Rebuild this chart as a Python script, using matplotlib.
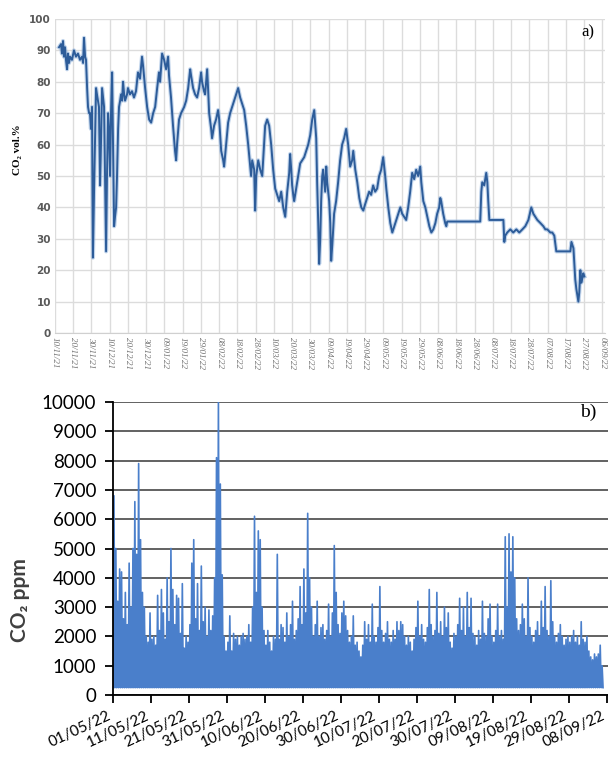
import numpy as np
import matplotlib
matplotlib.use('Agg')
import matplotlib.pyplot as plt
import matplotlib.transforms as mtransforms
from datetime import datetime

# ---- panel a): CO2 vol.% (days counted from 10/11/21) ----
co2_days = [2.2, 3.3, 3.8, 4.4, 4.9, 5.5, 6.0, 6.6, 7.1, 7.7, 8.2, 9.3, 10.4, 11.5, 12.6, 13.7,
            14.8, 15.4, 15.9, 16.5, 17.0, 17.6, 18.1, 18.7, 19.2, 19.7, 20.3, 20.8, 21.4, 22.5,
            23.0, 24.1, 24.7, 25.2, 25.8, 26.9, 28.0, 28.5, 29.1, 29.6, 30.2, 30.7, 31.3, 31.8,
            32.4, 32.9, 33.5, 34.0, 34.6, 35.1, 35.7, 36.2, 36.8, 37.3, 37.9, 38.4, 39.5, 40.0,
            41.1, 42.2, 43.3, 44.4, 45.5, 46.6, 47.7, 48.3, 49.4, 50.5, 51.6, 52.7, 53.8, 54.9,
            56.0, 57.0, 57.6, 58.7, 59.8, 60.9, 62.0, 62.5, 63.6, 64.7, 65.8, 66.4, 66.9, 68.0,
            69.1, 70.8, 71.9, 73.0, 74.1, 74.6, 75.7, 76.8, 77.9, 79.0, 80.1, 80.6, 81.7, 82.3,
            83.4, 83.9, 84.5, 85.6, 86.1, 87.2, 88.3, 89.4, 90.0, 91.1, 92.2, 92.7, 93.8, 94.9,
            96.0, 97.1, 98.2, 99.3, 100.4, 101.5, 102.6, 103.7, 104.8, 105.9, 107.0, 107.5, 108.1,
            109.2, 109.7, 110.3, 111.4, 112.5, 113.6, 114.6, 115.2, 116.3, 117.4, 118.5, 119.6,
            120.7, 121.8, 122.9, 124.0, 125.1, 126.2, 127.3, 128.4, 128.9, 129.5, 130.0, 130.6,
            131.1, 132.2, 133.3, 134.4, 135.5, 136.6, 137.7, 138.8, 139.9, 141.0, 142.1, 143.2,
            143.7, 144.3, 144.8, 145.4, 145.9, 146.5, 147.0, 148.1, 148.7, 149.2, 150.3, 150.9,
            151.4, 152.0, 153.0, 154.1, 155.2, 156.3, 157.4, 158.5, 159.6, 160.7, 161.8, 162.9,
            163.5, 164.6, 165.7, 166.8, 167.9, 169.0, 170.0, 171.1, 172.2, 173.3, 174.4, 175.5,
            176.6, 177.7, 178.8, 179.9, 181.0, 181.6, 182.7, 183.8, 184.9, 186.0, 187.1, 188.2,
            189.3, 190.3, 191.4, 192.5, 193.6, 194.7, 195.8, 196.9, 198.0, 199.1, 200.2, 200.8,
            201.9, 203.0, 204.1, 205.2, 206.3, 207.4, 208.5, 209.5, 210.6, 211.2, 211.7, 212.8,
            213.9, 214.5, 215.0, 233.1, 233.7, 234.2, 235.3, 236.4, 237.0, 237.5, 238.1, 245.8,
            246.3, 246.8, 247.9, 249.6, 251.2, 252.9, 254.5, 256.2, 257.8, 259.5, 261.1, 262.2,
            263.3, 264.4, 266.1, 267.7, 268.8, 269.9, 271.5, 272.6, 273.7, 274.8, 282.5, 283.1,
            284.2, 284.7, 285.2, 285.8, 286.9, 287.4, 288.0, 288.5, 289.1, 289.6, 290.2]
co2_vol = [91, 92, 89, 93, 88, 91, 87, 84, 89, 86, 88, 87, 90, 88, 89, 87,
           88, 86, 94, 88, 87, 78, 72, 70, 70, 65, 72, 24, 45, 78,
           76, 72, 47, 60, 78, 72, 26, 50, 70, 65, 50, 70, 83, 60,
           34, 37, 40, 50, 65, 72, 74, 76, 74, 80, 76, 74, 76, 78,
           76, 77, 75, 77, 83, 81, 88, 85, 78, 72, 68, 67, 70, 72,
           78, 83, 80, 89, 87, 84, 88, 82, 75, 66, 58, 55, 60, 68,
           70, 72, 74, 78, 84, 82, 78, 76, 75, 78, 83, 80, 77, 76,
           84, 78, 70, 65, 62, 66, 68, 71, 68, 58, 55, 53, 60, 67,
           70, 72, 74, 76, 78, 75, 73, 71, 66, 60, 53, 50, 55,
           52, 39, 50, 55, 52, 50, 60, 66, 68, 66, 60, 52,
           46, 44, 42, 45, 40, 37, 45, 51, 57, 52, 47, 44,
           42, 46, 50, 54, 55, 56, 58, 60, 63, 68, 71, 62,
           48, 35, 22, 30, 42, 50, 52, 45, 53, 48, 42, 35,
           23, 28, 38, 42, 48, 55, 60, 62, 65, 60, 53, 55,
           58, 52, 48, 43, 40, 39, 41, 43, 45, 44, 47, 45,
           46, 50, 52, 56, 50, 46, 40, 35, 32, 34, 36, 38,
           40, 38, 37, 36, 40, 45, 51, 49, 52, 50, 53, 48,
           42, 40, 37, 34, 32, 33, 35, 38, 40, 43, 42, 38,
           35, 34, 35.5, 35.5, 45, 48, 47, 51, 48, 42, 36, 36,
           29, 31, 32, 33, 32, 33, 32, 33, 34, 36, 40, 38,
           37, 36, 35, 34, 33, 33, 32, 32, 31, 26, 26, 29,
           27, 22, 17, 14, 10, 13, 20, 16, 17.5, 19, 18]
ticks_a = ['10/11/21', '20/11/21', '30/11/21', '10/12/21', '20/12/21', '30/12/21', '09/01/22',
           '19/01/22', '29/01/22', '08/02/22', '18/02/22', '28/02/22', '10/03/22', '20/03/22',
           '30/03/22', '09/04/22', '19/04/22', '29/04/22', '09/05/22', '19/05/22', '29/05/22',
           '08/06/22', '18/06/22', '28/06/22', '08/07/22', '18/07/22', '28/07/22', '07/08/22',
           '17/08/22', '27/08/22', '06/09/22']

# ---- panel b): CO2 ppm, two maxima per day from 01/05/22 ----
ppm_peaks = [
    6800, 5000, 3200, 4300, 4200, 2600, 3500, 2400, 4500, 3000, 5000, 6600, 4800, 7900, 5300, 3500, 3000, 2000, 1800, 2800,
    1900, 2000, 1700, 3400, 2200, 3600, 2800, 1900, 4000, 2500, 5000, 3600, 2400, 3400, 3300, 2100, 3800, 1600, 2000, 1800,
    2400, 4500, 5300, 2600, 3800, 2200, 4400, 2500, 3000, 2000, 2900, 2200, 2700, 4000, 8100, 10000, 7200, 4100, 2000, 1500,
    1800, 2700, 1500, 2100, 1900, 2000, 1700, 2000, 2100, 1900, 2000, 2400, 1800, 3000, 6100, 3500, 5600, 5300, 3000, 2200,
    1700, 2200, 1800, 1500, 2000, 1900, 4800, 1900, 2400, 2300, 1800, 2800, 2000, 2400, 3200, 1900, 2200, 2600, 3700, 2400,
    4300, 2800, 6200, 4000, 3000, 2000, 2400, 3200, 2000, 2300, 2400, 1900, 2200, 3100, 2000, 2800, 5100, 3500, 2400, 2100,
    2800, 3200, 2700, 2200, 1800, 2000, 2700, 1700, 1800, 1500, 1300, 1700, 2500, 1900, 2400, 1800, 3100, 2000, 1800, 2300,
    3700, 2200, 1800, 2100, 2500, 1900, 1800, 2200, 1900, 2500, 2200, 2500, 2400, 2000, 1700, 2000, 1800, 1500, 1900, 2300,
    3200, 2000, 2400, 1900, 1800, 2300, 3600, 2400, 2000, 2200, 3500, 2100, 2500, 2000, 3000, 2300, 2800, 1800, 1600, 2100,
    2000, 2400, 3300, 2200, 3000, 2000, 3500, 2300, 3300, 2100, 2000, 1700, 2200, 1900, 3200, 2100, 2000, 2600, 3100, 2000,
    1800, 2200, 3100, 2000, 2200, 1900, 5400, 3000, 5500, 4200, 5400, 4000, 2600, 2200, 2400, 3100, 2600, 2000, 4000, 2300,
    2000, 1800, 2200, 2500, 2000, 3200, 2300, 3700, 2200, 2000, 3900, 2500, 2000, 1800, 2100, 2400, 2000, 1700, 1900, 2000,
    1800, 2000, 2200, 1800, 2000, 1700, 2500, 1900, 1800, 2000, 1500, 1300, 1200, 1400, 1300, 1400, 1700, 1000]
# level below which the hourly trace is practically solid, per 10-day block
ppm_band = [1300, 1100, 1200, 1100, 1000, 1100, 1000, 1000, 1000, 1000, 1100, 1000, 900]
ppm_floor = 250
ticks_b = ['01/05/22', '11/05/22', '21/05/22', '31/05/22', '10/06/22', '20/06/22', '30/06/22',
           '10/07/22', '20/07/22', '30/07/22', '09/08/22', '19/08/22', '29/08/22', '08/09/22']


def to_dates(start, days):
    minutes = np.round(np.asarray(days, dtype=float) * 1440).astype('timedelta64[m]')
    return np.datetime64(start, 'm') + minutes


def parse(labels):
    return [datetime.strptime(s, '%d/%m/%y') for s in labels]


W, H = 608, 760
fig = plt.figure(figsize=(W / 100, H / 100), dpi=100)

# ================= a) =================
ax1 = fig.add_axes([55 / W, (H - 333) / H, 550 / W, 314 / H])
xa = to_dates('2021-11-10', co2_days)
ax1.plot(xa, co2_vol, color='#8fb2dc', lw=3.0, alpha=0.55, solid_joinstyle='round')
ax1.plot(xa, co2_vol, color='#2d5c99', lw=1.4, solid_joinstyle='round')
ax1.set_ylim(0, 100)
ax1.set_xlim(np.datetime64('2021-11-10T00:00'), np.datetime64('2021-11-10T00:00') + np.timedelta64(301 * 1440 + 720, 'm'))
ax1.set_yticks(range(0, 101, 10))
ax1.set_xticks(parse(ticks_a))
ax1.set_xticklabels(ticks_a, rotation=270, fontsize=6.5, color='#6f6f6f',
                    family=['Liberation Serif'], style='italic')
for lab in ax1.get_yticklabels():
    lab.set_fontsize(7.5)
    lab.set_color('#595959')
    lab.set_fontweight('bold')
ax1.grid(True, color='#dcdcdc', lw=1.0)
ax1.set_axisbelow(True)
for s in ['top', 'right', 'left']:
    ax1.spines[s].set_visible(False)
ax1.spines['bottom'].set_color('#d0d0d0')
ax1.tick_params(length=0, pad=3)
fig.text(18 / W, (H - 150) / H, 'CO\u2082 vol.%', rotation=90, ha='center', va='center',
         fontsize=8, fontweight='bold', family=['Liberation Serif', 'DejaVu Serif'])
fig.text(588 / W, (H - 32) / H, 'a)', ha='center', va='center', fontsize=12,
         family=['Liberation Serif'])

# ================= b) =================
ax2 = fig.add_axes([113 / W, (H - 695) / H, 495 / W, 293 / H])
n = len(ppm_peaks)
half_days = np.arange(n) * 0.5
tb = np.empty(2 * n + 1)
yb = np.empty(2 * n + 1)
tb[0:-1:2] = half_days
tb[1::2] = half_days + 0.25
tb[-1] = half_days[-1] + 0.5
yb[0:-1:2] = ppm_floor
yb[1::2] = ppm_peaks
yb[-1] = ppm_floor
xb = to_dates('2022-05-01', tb)
blue = '#4a7fcb'
band_days = np.append(np.arange(len(ppm_band)) * 10.0, tb[-1])
band_vals = ppm_band + [ppm_band[-1]]
ax2.fill_between(to_dates('2022-05-01', band_days), ppm_floor, band_vals, step='post',
                 color=blue, lw=0)
ax2.plot(xb, yb, color=blue, lw=1.2)
ax2.set_ylim(0, 10000)
ax2.set_xlim(np.datetime64('2022-05-01T00:00'), np.datetime64('2022-05-01T00:00') + np.timedelta64(int(130.3 * 1440), 'm'))
ax2.set_yticks(range(0, 10001, 1000))
ax2.yaxis.grid(True, color='#555555', lw=1.3)
ax2.set_axisbelow(True)
ax2.spines['top'].set_visible(False)
ax2.spines['right'].set_visible(False)
ax2.spines['left'].set_linewidth(1.3)
ax2.spines['bottom'].set_linewidth(1.3)
ax2.tick_params(axis='both', length=6, width=1.3, direction='out')
ax2.tick_params(axis='y', pad=6)
ax2.tick_params(axis='x', pad=4)
ax2.set_xticks(parse(ticks_b))
ax2.set_xticklabels(ticks_b, rotation=25, ha='right', va='top', rotation_mode='anchor',
                    fontsize=11, family=['Lato', 'DejaVu Sans'])
for lab in ax2.get_yticklabels():
    lab.set_fontsize(13.5)
    lab.set_family(['Lato', 'DejaVu Sans'])
# nudge the slanted date labels left so the last one stays inside the figure
shift = mtransforms.ScaledTranslation(-6 / 100, 0, fig.dpi_scale_trans)
for lab in ax2.get_xticklabels():
    lab.set_transform(lab.get_transform() + shift)
fig.text(20 / W, (H - 600) / H, 'CO\u2082 ppm', rotation=90, ha='center', va='center',
         fontsize=15, fontweight='bold', color='#404040', family=['Lato', 'DejaVu Sans'])
fig.text(588 / W, (H - 412) / H, 'b)', ha='center', va='center', fontsize=14,
         family=['Liberation Serif'])

fig.savefig('out.png', dpi=100)
